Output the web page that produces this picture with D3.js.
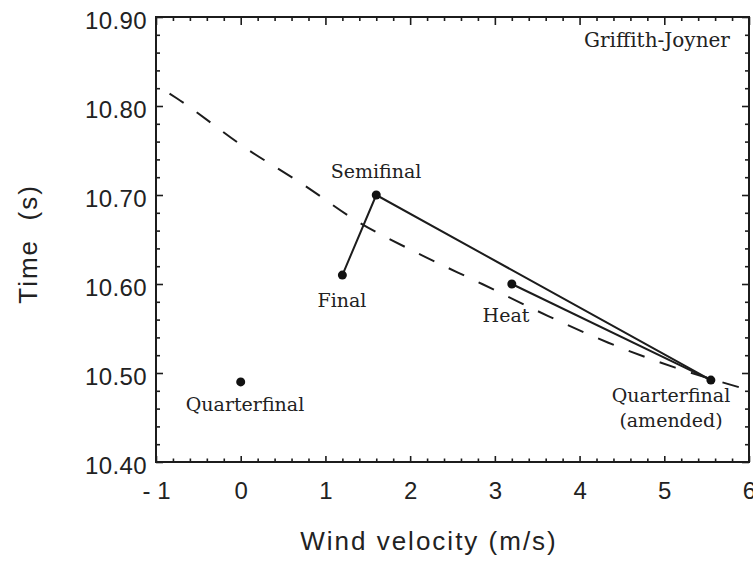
<!DOCTYPE html>
<html>
<head>
<meta charset="utf-8">
<script src="https://cdn.jsdelivr.net/npm/d3@7/dist/d3.min.js"></script>
<style>
  html, body { margin: 0; padding: 0; background: #fff; }
  svg { display: block; }
</style>
</head>
<body>
<svg id="chart" width="753" height="563"></svg>
<script>
// Race results: wind velocity (m/s) vs. time (s)
const races   = ["Quarterfinal", "Final", "Semifinal", "Heat", "Quarterfinal (amended)"];
const windV   = [0.0, 1.2, 1.6, 3.2, 5.55];
const times   = [10.49, 10.61, 10.70, 10.60, 10.492];

// Connected segments (indices into the arrays above)
const pathA = [1, 2, 4];   // Final -> Semifinal -> Quarterfinal (amended)
const pathB = [3, 4];      // Heat -> Quarterfinal (amended)

// Dashed wind-correction curve, sampled along its length
const trendX = [-0.84, -0.76, 0.07, 0.75, 1.35, 2.08, 2.85, 3.63, 4.34, 5.13, 5.92];
const trendY = [10.814, 10.809, 10.752, 10.711, 10.672, 10.635, 10.600, 10.564, 10.534, 10.506, 10.483];

// Axis ticks
const xMajor = [-1, 0, 1, 2, 3, 4, 5, 6];
const yMajor = [10.40, 10.50, 10.60, 10.70, 10.80, 10.90];

const svg = d3.select("#chart");
const plotL = 156, plotR = 749, plotT = 17, plotB = 462;

const x = d3.scaleLinear().domain([-1, 6]).range([plotL, plotR]);
const y = d3.scaleLinear().domain([10.40, 10.90]).range([plotB, plotT]);

const xMinor = d3.range(-1, 6.001, 0.2).map(v => +v.toFixed(1)).filter(v => !xMajor.includes(v));
const yMinor = d3.range(10.40, 10.9001, 0.02).map(v => +v.toFixed(2)).filter(v => !yMajor.some(m => Math.abs(m - v) < 1e-6));

const ink = "#1c1c1c";

function styleAxis(g) {
  g.select(".domain").remove();
  g.selectAll(".tick line").attr("stroke", ink).attr("stroke-width", 1.6);
}

// Bottom axis
svg.append("g").attr("transform", `translate(0,${plotB})`)
  .call(d3.axisBottom(x).tickValues(xMinor).tickSizeInner(-3.5).tickSizeOuter(0).tickFormat(""))
  .call(styleAxis);
svg.append("g").attr("transform", `translate(0,${plotB})`)
  .call(d3.axisBottom(x).tickValues(xMajor).tickSizeInner(-6).tickSizeOuter(0).tickPadding(20)
    .tickFormat(d => d < 0 ? "- " + Math.abs(d) : String(d)))
  .call(styleAxis)
  .call(g => g.selectAll("text")
    .attr("font-family", "'Liberation Sans', Arial, sans-serif")
    .attr("font-size", 24).attr("fill", "#222"));

// Top axis
svg.append("g").attr("transform", `translate(0,${plotT})`)
  .call(d3.axisTop(x).tickValues(xMinor).tickSizeInner(-4).tickSizeOuter(0).tickFormat(""))
  .call(styleAxis);
svg.append("g").attr("transform", `translate(0,${plotT})`)
  .call(d3.axisTop(x).tickValues(xMajor).tickSizeInner(-8).tickSizeOuter(0).tickFormat(""))
  .call(styleAxis);

// Left axis
svg.append("g").attr("transform", `translate(${plotL},0)`)
  .call(d3.axisLeft(y).tickValues(yMinor).tickSizeInner(-4).tickSizeOuter(0).tickFormat(""))
  .call(styleAxis);
svg.append("g").attr("transform", `translate(${plotL},0)`)
  .call(d3.axisLeft(y).tickValues(yMajor).tickSizeInner(-7).tickSizeOuter(0).tickPadding(9)
    .tickFormat(d3.format(".2f")))
  .call(styleAxis)
  .call(g => g.selectAll("text")
    .attr("dy", "0.48em")
    .attr("font-family", "'Liberation Sans', Arial, sans-serif")
    .attr("font-size", 24).attr("letter-spacing", 0.4).attr("fill", "#222"));

// Right axis
svg.append("g").attr("transform", `translate(${plotR},0)`)
  .call(d3.axisRight(y).tickValues(yMinor).tickSizeInner(-4).tickSizeOuter(0).tickFormat(""))
  .call(styleAxis);
svg.append("g").attr("transform", `translate(${plotR},0)`)
  .call(d3.axisRight(y).tickValues(yMajor).tickSizeInner(-7).tickSizeOuter(0).tickFormat(""))
  .call(styleAxis);

// Frame
svg.append("rect")
  .attr("x", plotL).attr("y", plotT)
  .attr("width", plotR - plotL).attr("height", plotB - plotT)
  .attr("fill", "none").attr("stroke", ink).attr("stroke-width", 2);

// Dashed correction curve
const curve = d3.line().x(d => x(d[0])).y(d => y(d[1])).curve(d3.curveMonotoneX);
svg.append("path")
  .datum(trendX.map((v, i) => [v, trendY[i]]))
  .attr("d", curve)
  .attr("fill", "none").attr("stroke", ink).attr("stroke-width", 2)
  .attr("stroke-dasharray", "17 16");

// Connecting lines
const line = d3.line().x(d => x(d[0])).y(d => y(d[1]));
[pathA, pathB].forEach(p => {
  svg.append("path")
    .datum(p.map(i => [windV[i], times[i]]))
    .attr("d", line)
    .attr("fill", "none").attr("stroke", ink).attr("stroke-width", 2);
});

// Points
svg.append("g").selectAll("circle")
  .data(races.map((r, i) => ({ r, w: windV[i], t: times[i] })))
  .join("circle")
  .attr("cx", d => x(d.w)).attr("cy", d => y(d.t))
  .attr("r", 4.5).attr("fill", "#111");

// Point labels
const serif = "'DejaVu Serif', 'Liberation Serif', serif";
const labels = [
  { text: "Quarterfinal", cx: 245, by: 411 },
  { text: "Final", cx: 342, by: 307 },
  { text: "Semifinal", cx: 376, by: 178 },
  { text: "Heat", cx: 506, by: 322 },
  { text: "Quarterfinal", cx: 671, by: 402 },
  { text: "(amended)", cx: 671, by: 427 }
];
svg.append("g").selectAll("text")
  .data(labels)
  .join("text")
  .attr("x", d => d.cx).attr("y", d => d.by)
  .attr("text-anchor", "middle")
  .attr("font-family", serif).attr("font-size", 19).attr("fill", "#222")
  .text(d => d.text);

svg.append("text")
  .attr("x", 657).attr("y", 47)
  .attr("text-anchor", "middle")
  .attr("font-family", serif).attr("font-size", 20).attr("fill", "#222")
  .text("Griffith-Joyner");

// Axis titles
const sans = "'Liberation Sans', Arial, sans-serif";
svg.append("text")
  .attr("x", 429).attr("y", 550)
  .attr("text-anchor", "middle")
  .attr("font-family", sans).attr("font-size", 26).attr("letter-spacing", 2).attr("fill", "#222")
  .text("Wind velocity (m/s)");

svg.append("text")
  .attr("transform", "translate(37,244) rotate(-90)")
  .attr("text-anchor", "middle")
  .attr("font-family", sans).attr("font-size", 26).attr("letter-spacing", 2).attr("fill", "#222")
  .style("white-space", "pre")
  .text("Time  (s)");
</script>
</body>
</html>
